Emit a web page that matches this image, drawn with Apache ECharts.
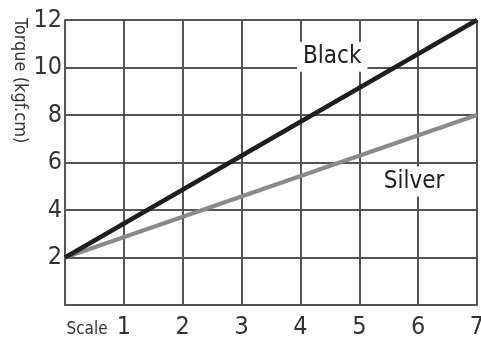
<!DOCTYPE html>
<html><head><meta charset="utf-8">
<script src="https://cdn.jsdelivr.net/npm/echarts@6/dist/echarts.min.js"></script>
<style>html,body{margin:0;padding:0;background:#fff}#c{width:481px;height:346px}</style>
</head><body><div id="c"></div>
<script>
var scaleX = [0, 7];
var blackY = [2, 12];
var silverY = [2, 8];
var xTickLabels = ['Scale', '1', '2', '3', '4', '5', '6', '7'];
var yTickLabels = ['', '2', '4', '6', '8', '10', '12'];
var seriesNames = ['Black', 'Silver'];
var yAxisTitle = 'Torque (kgf.cm)';
var labelPos = { Black: [4.54, 10.45], Silver: [5.93, 5.2] };

var font = "'Liberation Sans Narrow','DejaVu Sans Condensed','Noto Sans',sans-serif";
var chart = echarts.init(document.getElementById('c'));
function pairs(xs, ys) { return xs.map(function (x, i) { return [x, ys[i]]; }); }
function mk(name) {
  return {
    data: [{ coord: labelPos[name], value: name }],
    symbol: 'rect', symbolSize: 0,
    label: { show: true, position: 'inside', formatter: name, color: '#222', fontSize: 24,
      fontFamily: font, backgroundColor: '#fff', padding: [3, 6, 3, 6] }
  };
}
chart.setOption({
  animation: false,
  grid: { left: 65, right: 4, top: 20, bottom: 41, outerBoundsMode: 'none', containLabel: false },
  graphic: [{
    type: 'text', x: 20, y: 18, rotation: -Math.PI / 2,
    style: { text: yAxisTitle, fill: '#333', font: '18px ' + font, textAlign: 'left', textVerticalAlign: 'middle' }
  }],
  xAxis: {
    type: 'value', min: 0, max: 7, interval: 1,
    axisLine: { show: true, lineStyle: { color: '#555', width: 2 } },
    axisTick: { show: false },
    splitLine: { show: true, lineStyle: { color: '#555', width: 2 } },
    axisLabel: {
      margin: 10, color: '#333', fontFamily: font, fontSize: 25,
      formatter: function (v) { var t = xTickLabels[Math.round(v)]; return Math.round(v) === 0 ? '{s|' + t + '}' : t; },
      rich: { s: { fontSize: 17, fontFamily: font, color: '#333', padding: [6, 0, 0, 44] } }
    }
  },
  yAxis: {
    type: 'value', min: 0, max: 12, interval: 2,
    axisLine: { show: true, lineStyle: { color: '#555', width: 2 } },
    axisTick: { show: false },
    splitLine: { show: true, lineStyle: { color: '#555', width: 2 } },
    axisLabel: {
      margin: 3, color: '#333', fontFamily: font, fontSize: 25,
      formatter: function (v) { return yTickLabels[Math.round(v / 2)]; }
    }
  },
  series: [
    { name: seriesNames[0], type: 'line', data: pairs(scaleX, blackY), symbol: 'none',
      lineStyle: { color: '#1e1e1e', width: 4.5 }, markPoint: mk('Black'), z: 3 },
    { name: seriesNames[1], type: 'line', data: pairs(scaleX, silverY), symbol: 'none',
      lineStyle: { color: '#8a8a8a', width: 4 }, markPoint: mk('Silver'), z: 2 }
  ]
});
</script></body></html>
